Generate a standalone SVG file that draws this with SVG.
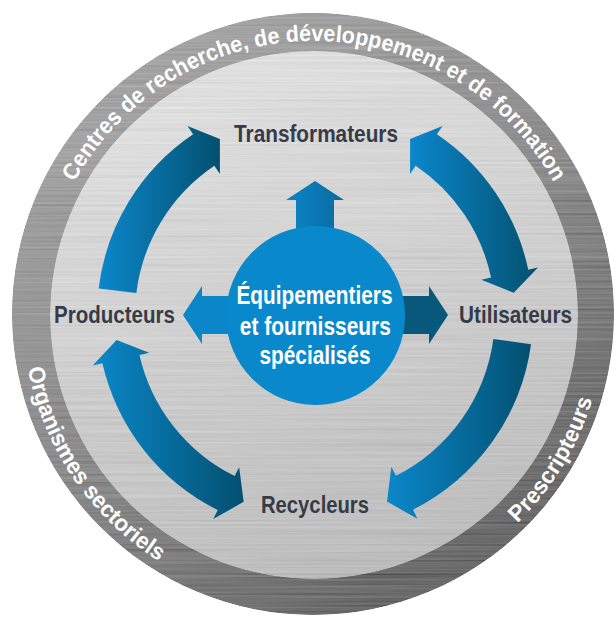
<svg xmlns="http://www.w3.org/2000/svg" width="616" height="619" viewBox="0 0 616 619">
  <defs>
    <linearGradient id="ringGrad" x1="0.2" y1="0" x2="0.8" y2="1">
      <stop offset="0" stop-color="#a9a9a9"/>
      <stop offset="0.5" stop-color="#8c8c8c"/>
      <stop offset="1" stop-color="#646464"/>
    </linearGradient>
    <linearGradient id="diskGrad" x1="0.3" y1="0" x2="0.6" y2="1">
      <stop offset="0" stop-color="#e1e1e1"/>
      <stop offset="0.5" stop-color="#cfcfcf"/>
      <stop offset="1" stop-color="#bcbcbc"/>
    </linearGradient>
    <linearGradient id="arrowGrad" x1="0" y1="0" x2="1" y2="0">
      <stop offset="0" stop-color="#0b87cb"/>
      <stop offset="1" stop-color="#03506f"/>
    </linearGradient>
    <linearGradient id="upGrad" x1="0" y1="0" x2="1" y2="0">
      <stop offset="0" stop-color="#0b84c6"/>
      <stop offset="1" stop-color="#0a6b9f"/>
    </linearGradient>
    <filter id="brush" x="0" y="0" width="100%" height="100%">
      <feTurbulence type="fractalNoise" baseFrequency="0.004 0.45" numOctaves="2" seed="7" result="n"/>
      <feColorMatrix in="n" type="matrix" values="0.33 0.33 0.33 0 0  0.33 0.33 0.33 0 0  0.33 0.33 0.33 0 0  0 0 0 0 1" result="g"/>
      <feComposite in="SourceGraphic" in2="g" operator="arithmetic" k1="0" k2="1" k3="0.3" k4="-0.15" result="c"/>
      <feComposite in="c" in2="SourceAlpha" operator="in"/>
    </filter>
    <path id="topArc" d="M 40 315 A 274 274 0 0 1 588 315"/>
    <path id="bottomArc" d="M 62 169.5 A 291 291 0 1 0 566 169.5"/>
  </defs>
  <style>
    .ringtxt { font-family: "Liberation Sans", Arial, sans-serif; font-weight: bold; font-size: 23px; fill: #ffffff; }
    .label { font-family: "Liberation Sans", Arial, sans-serif; font-weight: bold; font-size: 24px; fill: #363b47; text-anchor: middle; }
    .ctr { font-family: "Liberation Sans", Arial, sans-serif; font-weight: bold; font-size: 26px; fill: #ffffff; text-anchor: middle; }
    .arrow { fill: url(#arrowGrad); }
  </style>

  <rect x="0" y="0" width="616" height="619" fill="#ffffff"/>

  <g id="background">
    <circle cx="313" cy="314" r="301" fill="url(#ringGrad)" filter="url(#brush)"/>
    <circle cx="314" cy="315" r="264" fill="url(#diskGrad)" filter="url(#brush)"/>
  </g>

  <g id="ring-labels">
    <g id="centres-recherche">
      <text class="ringtxt"><textPath href="#topArc" startOffset="138.9" textLength="111.34" lengthAdjust="spacingAndGlyphs">Centres de</textPath></text>
      <text class="ringtxt"><textPath href="#topArc" startOffset="256.23" textLength="108.97" lengthAdjust="spacingAndGlyphs">recherche,</textPath></text>
      <text class="ringtxt"><textPath href="#topArc" startOffset="371.19" textLength="189.16" lengthAdjust="spacingAndGlyphs">de développement</textPath></text>
      <text class="ringtxt"><textPath href="#topArc" startOffset="566.33" textLength="155.61" lengthAdjust="spacingAndGlyphs">et de formation</textPath></text>
    </g>
    <g id="organismes">
      <text class="ringtxt" text-anchor="middle"><textPath href="#bottomArc" startOffset="325.8" textLength="240" lengthAdjust="spacingAndGlyphs">Organismes sectoriels</textPath></text>
    </g>
    <g id="prescripteurs">
      <text class="ringtxt" text-anchor="middle"><textPath href="#bottomArc" startOffset="907.6" textLength="146" lengthAdjust="spacingAndGlyphs">Prescripteurs</textPath></text>
    </g>
  </g>

  <g id="connectors">
    <path id="arrow-prod-transf" class="arrow" d="M 98.62 288.43 A 218 218 0 0 1 193.10 134.27 L 187.50 125.98 L 219.88 139.07 L 219.94 174.06 L 214.35 165.77 A 180 180 0 0 0 136.34 293.06 Z"/>
    <path id="arrow-transf-util" class="arrow" d="M 436.90 134.27 A 218 218 0 0 1 528.24 269.68 L 538.02 267.60 L 513.75 292.71 L 481.29 279.66 L 491.07 277.58 A 180 180 0 0 0 415.65 165.77 L 410.06 174.06 L 410.12 139.07 L 442.50 125.98 Z"/>
    <path id="arrow-util-recyc" class="arrow" d="M 531.03 344.21 A 218 218 0 0 1 412.95 509.75 L 417.44 518.69 L 386.99 501.59 L 391.38 466.87 L 395.88 475.81 A 180 180 0 0 0 493.38 339.12 Z"/>
    <path id="arrow-recyc-prod" class="arrow" d="M 102.42 363.30 A 218 218 0 0 0 217.73 510.09 L 213.27 519.04 L 243.65 501.84 L 239.15 467.14 L 234.68 476.09 A 180 180 0 0 1 139.47 354.88 L 149.22 352.66 L 116.58 340.07 L 92.67 365.51 Z"/>
    <polygon id="arrow-up" fill="url(#upGrad)" points="296,245 296,200 286,200 315,181 344,200 334,200 334,245"/>
    <polygon id="arrow-left" fill="#0b86c9" points="245,296 202,296 202,286 183,315 202,344 202,334 245,334"/>
    <polygon id="arrow-right" fill="#07587b" points="385,296 429,296 429,286 448,315 429,344 429,334 385,334"/>
  </g>

  <g id="node-center">
    <circle cx="315.5" cy="315.5" r="89.5" fill="#0a88cc"/>
    <text class="ctr" x="314.5" y="304" textLength="156" lengthAdjust="spacingAndGlyphs">Équipementiers</text>
    <text class="ctr" x="315.3" y="335" textLength="151" lengthAdjust="spacingAndGlyphs">et fournisseurs</text>
    <text class="ctr" x="315" y="363.5" textLength="111" lengthAdjust="spacingAndGlyphs">spécialisés</text>
  </g>

  <g id="node-transformateurs">
    <text class="label" x="316" y="142" textLength="164" lengthAdjust="spacingAndGlyphs">Transformateurs</text>
  </g>
  <g id="node-producteurs">
    <text class="label" x="114.5" y="323" textLength="121" lengthAdjust="spacingAndGlyphs">Producteurs</text>
  </g>
  <g id="node-utilisateurs">
    <text class="label" x="515.5" y="323" textLength="113" lengthAdjust="spacingAndGlyphs">Utilisateurs</text>
  </g>
  <g id="node-recycleurs">
    <text class="label" x="315" y="513" textLength="108" lengthAdjust="spacingAndGlyphs">Recycleurs</text>
  </g>
</svg>
